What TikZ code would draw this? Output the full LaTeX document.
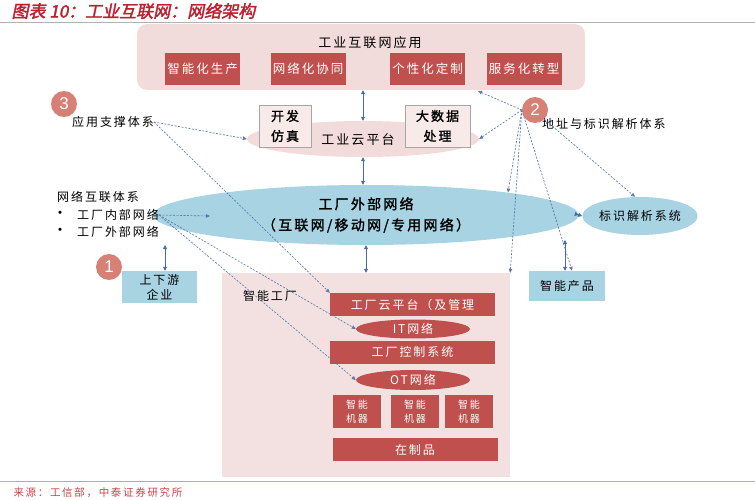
\documentclass[tikz,border=0pt]{standalone}
\usepackage{fontspec}
\setmainfont{Noto Sans CJK SC}[LetterSpace=16]
\newfontfamily\titlefont{Noto Sans CJK SC}[FakeSlant=0.2,FakeBold=2]
\newfontfamily\thickfont{Noto Sans CJK SC}[LetterSpace=16,FakeBold=1.5]
\newfontfamily\numfont{Liberation Sans}
\usetikzlibrary{arrows.meta,positioning,shapes.geometric}
\definecolor{pinkbg}{RGB}{242,220,219}
\definecolor{pinkfac}{RGB}{243,225,225}
\definecolor{boxred}{RGB}{192,80,77}
\definecolor{boxblue}{RGB}{168,211,226}
\definecolor{dotred}{RGB}{214,128,118}
\definecolor{linkblue}{RGB}{90,122,172}
\definecolor{arrowblue}{RGB}{70,110,165}
\definecolor{titlered}{RGB}{190,30,45}

\begin{document}
\begin{tikzpicture}[x=1pt,y=-1pt,
    font=\fontsize{12}{18}\selectfont,
    redbox/.style={rectangle,fill=boxred,text=white,inner sep=0pt,align=center},
    bluebox/.style={rectangle,fill=boxblue,inner sep=0pt,align=center},
    redoval/.style={ellipse,fill=boxred,text=white,inner sep=0pt},
    greybox/.style={rectangle,fill=pinkbg!60!white,draw=gray!70,inner sep=0pt,align=center,
      minimum height=42,font=\thickfont\fontsize{13}{20}\selectfont},
    numdot/.style={circle,fill=dotred,text=white,minimum size=26,inner sep=0pt,
      font=\numfont\fontsize{17}{17}\selectfont},
    link/.style={draw=linkblue,dash pattern=on 2pt off 1.5pt,line width=0.65pt,
      -{Triangle[length=4pt,width=3.5pt]}},
    both/.style={draw=arrowblue,line width=0.8pt,
      {Triangle[length=4pt,width=4pt]}-{Triangle[length=4pt,width=4pt]}}]

\useasboundingbox (0,0) rectangle (755,500);

% heading and source
\node[anchor=west,text=titlered,font=\titlefont\fontsize{17}{17}\selectfont] (title) at (8,11) {图表 10：工业互联网：网络架构};
\draw[gray!60,line width=0.8pt] (0,22) -- (755,22);
\draw[dotred!80,line width=0.8pt] (0,481) -- (755,481);
\node[anchor=west,text=titlered!85,font=\fontsize{10.5}{10.5}\selectfont] (src) at (10,493) {来源：工信部，中泰证券研究所};

% application layer
\node[rectangle,rounded corners=10,fill=pinkbg,minimum width=448,minimum height=66] (app) at (361,57) {};
\node[font=\fontsize{13}{13}\selectfont] (apptitle) at (370,43) {工业互联网应用};
\begin{scope}[every node/.style={redbox,minimum width=75,minimum height=32,
    font=\fontsize{12.5}{12.5}\selectfont}]
  \node (p1) at (202.5,69) {智能化生产};
  \node (p2) at (308,69) {网络化协同};
  \node (p3) at (427.5,69) {个性化定制};
  \node (p4) at (524,69) {服务化转型};
\end{scope}

% cloud platform
\node[ellipse,fill=pinkbg,minimum width=232,minimum height=36,inner sep=0pt] (cloud) at (363,139) {};
\node[font=\fontsize{13}{13}\selectfont] (cloudtxt) at (358,140) {工业云平台};
\node[greybox,minimum width=52] (dev) at (285,126) {开发\\仿真};
\node[greybox,minimum width=65] (data) at (437.5,126) {大数据\\处理};

% networks
\node[ellipse,fill=boxblue,minimum width=425,minimum height=60,inner sep=0pt,align=center,
  font=\thickfont\fontsize{14}{21}\selectfont] (ext) at (366,215) {工厂外部网络\\（互联网/移动网/专用网络）};
\node[ellipse,fill=boxblue,minimum width=95,minimum height=38,inner sep=0pt] (idsys) at (640,216) {标识解析系统};
\node[bluebox,minimum width=76,minimum height=30] (prod) at (567,286) {智能产品};
\node[bluebox,minimum width=75,minimum height=32,font=\fontsize{12}{15}\selectfont] (updown) at (159.5,287) {上下游\\企业};

% labels on the left and right
\node[numdot] (n3) at (64,104) {3};
\node[numdot] (n2) at (535,110) {2};
\node[numdot] (n1) at (109,267) {1};
\node[inner sep=0pt] (sup) at (113,122) {应用支撑体系};
\node[inner sep=0pt,anchor=west] (addr) at (542,124) {地址与标识解析体系};
\node[inner sep=0pt,anchor=west] (netsys) at (57,197) {网络互联体系};
\node[inner sep=0pt,anchor=west] (net1) at (77,215) {工厂内部网络};
\node[inner sep=0pt,anchor=west] (net2) at (77,232) {工厂外部网络};
\node[inner sep=0pt,font=\fontsize{15}{15}\selectfont] (dot1) at (60,215) {•};
\node[inner sep=0pt,font=\fontsize{15}{15}\selectfont] (dot2) at (60,232) {•};

% smart factory
\node[rectangle,fill=pinkfac,minimum width=288,minimum height=204,inner sep=0pt] (fac) at (366,375) {};
\node[inner sep=0pt] (factxt) at (270,296) {智能工厂};
\begin{scope}[every node/.style={redbox,minimum width=165,minimum height=23}]
  \node (fcp) at (412.5,304.5) {工厂云平台（及管理};
  \node (ctrl) at (412.5,352) {工厂控制系统};
  \node (wip) at (415,449.5) {在制品};
\end{scope}
\node[redoval,minimum width=114,minimum height=19] (it) at (413,329) {IT网络};
\node[redoval,minimum width=114,minimum height=20] (ot) at (413,380) {OT网络};
\begin{scope}[every node/.style={redbox,minimum width=48,minimum height=33,
    font=\fontsize{10}{14}\selectfont}]
  \node (m1) at (357,411.5) {智能\\机器};
  \node (m2) at (415,411.5) {智能\\机器};
  \node (m3) at (469,411.5) {智能\\机器};
\end{scope}

% free ends
\coordinate (intip) at (210,216);
\coordinate (apptip) at (478,91);
\coordinate (updtop) at (165,245);
\coordinate (prodtop) at (565,240);

% solid links
\begin{scope}[every edge/.style={both}]
  \path (app.south -| cloud.north) edge (cloud.north);
  \path (cloud.south) edge (cloud.south |- ext.north);
  \path (ext.south) edge (ext.south |- fac.north);
  \path (ext.east) edge (idsys.west);
  \path (updtop) edge (updown.north -| updtop);
  \path (prodtop) edge (prod.north -| prodtop);
\end{scope}

% dashed links
\begin{scope}[every edge/.style={link}]
  \path (sup.east) edge (cloud.west);
  \path (sup.east) edge (fcp.north west);
  \path (net1.east) edge (intip);
  \path (net1.east) edge (it.west);
  \path (net1.east) edge (ot.west);
  \path (n2.west) edge (apptip);
  \path (n2.west) edge (cloud.east);
  \path (n2.west) edge (ext.9);
  \path (n2.west) edge (fac.north east);
  \path (n2.west) edge ([xshift=5]prod.north);
  \path (n2.south east) edge ([xshift=-5]idsys.north);
\end{scope}
\end{tikzpicture}
\end{document}
